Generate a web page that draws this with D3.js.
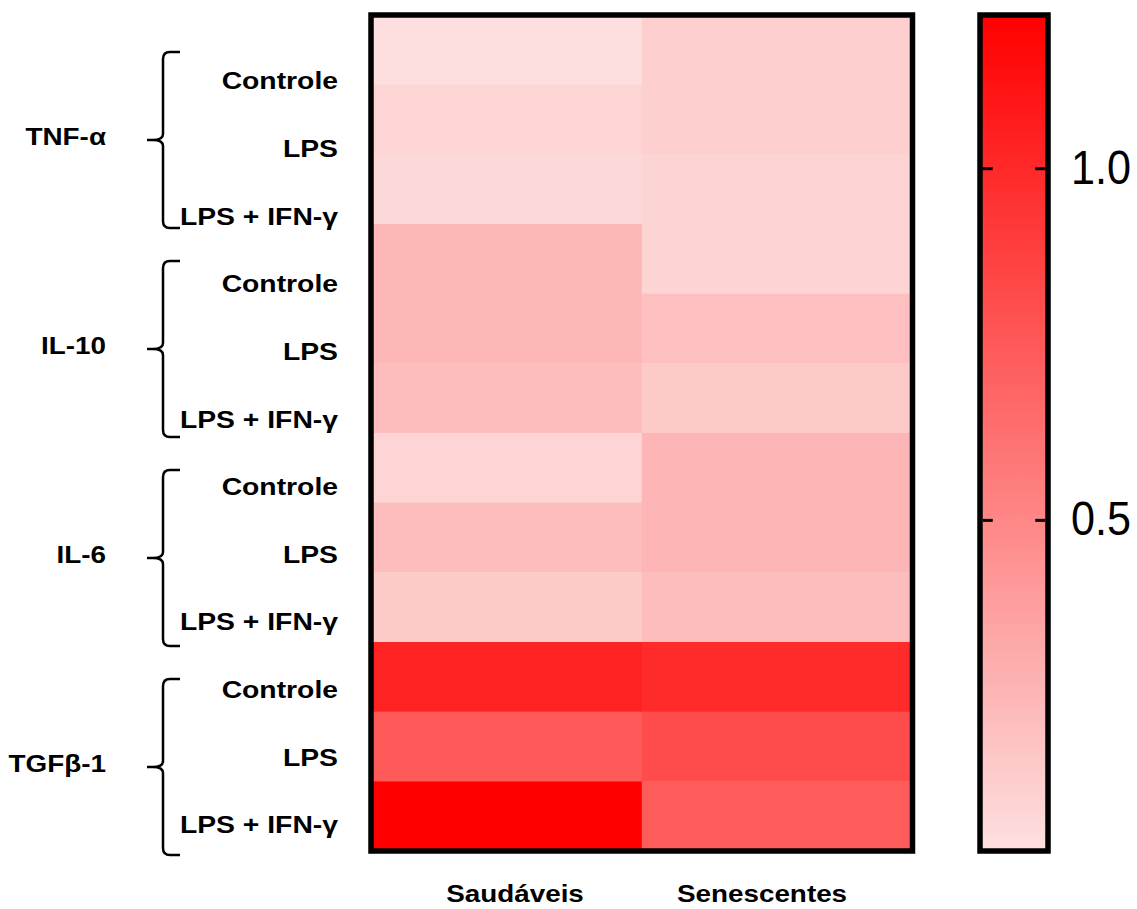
<!DOCTYPE html>
<html>
<head>
<meta charset="utf-8">
<script src="https://cdn.jsdelivr.net/npm/d3@7"></script>
<style>
    body { margin: 0; background: #fff; }
    text { font-family: "Liberation Sans", Arial, sans-serif; fill: #000; }
    .lbl { font-weight: bold; font-size: 24px; }
    .cb-label { font-size: 48px; }
</style>
</head>
<body>
<div id="heatmap"></div>
<script>
// chart data
var groups = ["TNF-α", "IL-10", "IL-6", "TGFβ-1"];
var conditions = ["Controle", "LPS", "LPS + IFN-γ"];
var columns = ["Saudáveis", "Senescentes"];

// values, one entry per row (group x condition)
var saudaveis = [0.04, 0.09, 0.075, 0.25, 0.25, 0.217, 0.09, 0.217, 0.149, 1.035, 0.74, 1.214];
var senescentes = [0.12, 0.12, 0.096, 0.096, 0.207, 0.149, 0.26, 0.26, 0.217, 0.993, 0.819, 0.734];

var colorTicks = [0.5, 1.0];
var colorDomain = [0.033, 1.214];

makeChart();

function makeChart() {
    var svgWidth = 1137;
    var svgHeight = 909;

    var svg = d3.select("#heatmap")
        .append("svg")
        .attr("width", svgWidth)
        .attr("height", svgHeight);

    // rows = every group/condition combination
    var rows = [];
    groups.forEach(function (g) {
        conditions.forEach(function (c) {
            rows.push(g + "|" + c);
        });
    });

    var cells = [];
    rows.forEach(function (r, i) {
        cells.push({ row: r, col: columns[0], value: saudaveis[i] });
        cells.push({ row: r, col: columns[1], value: senescentes[i] });
    });

    // Scales
    var heat = { left: 371, right: 912.5, top: 15, bottom: 851 };

    var xScale = d3.scaleBand()
        .domain(columns)
        .range([heat.left, heat.right]);

    var yScale = d3.scaleBand()
        .domain(rows)
        .range([heat.top, heat.bottom]);

    var color = d3.scaleLinear()
        .domain(colorDomain)
        .range(["#fde0e0", "#ff0000"])
        .interpolate(d3.interpolateRgb);

    // label positions (labels sit on a slightly tighter spacing than the cells)
    var rowLabelScale = d3.scalePoint()
        .domain(rows)
        .range([81, 825]);

    var colLabelScale = d3.scalePoint()
        .domain(columns)
        .range([515, 762]);

    var groupScale = d3.scaleBand()
        .domain(groups)
        .range([heat.top, heat.bottom]);

    // Cells
    svg.append("g")
        .attr("class", "cells")
        .selectAll("rect")
        .data(cells)
        .enter()
        .append("rect")
        .attr("x", d => xScale(d.col))
        .attr("y", d => yScale(d.row))
        .attr("width", xScale.bandwidth() + 0.5)
        .attr("height", yScale.bandwidth() + 0.5)
        .attr("fill", d => color(d.value));

    svg.append("rect")
        .attr("x", heat.left)
        .attr("y", heat.top)
        .attr("width", heat.right - heat.left)
        .attr("height", heat.bottom - heat.top)
        .attr("fill", "none")
        .attr("stroke", "#000")
        .attr("stroke-width", 5.5);

    // Row labels
    svg.append("g")
        .selectAll("text")
        .data(rows)
        .enter()
        .append("text")
        .attr("class", "lbl")
        .attr("text-anchor", "end")
        .attr("dy", "0.35em")
        .attr("transform", d => `translate(338, ${rowLabelScale(d)}) scale(1.18, 1)`)
        .text(d => d.split("|")[1]);

    // Column labels
    svg.append("g")
        .selectAll("text")
        .data(columns)
        .enter()
        .append("text")
        .attr("class", "lbl")
        .attr("text-anchor", "middle")
        .attr("transform", d => `translate(${colLabelScale(d)}, 902) scale(1.16, 1)`)
        .text(d => d);

    // Braces + group labels
    var braceGroup = svg.append("g").attr("class", "braces");
    groups.forEach(function (g) {
        var top = groupScale(g) + 37;
        var bottom = groupScale(g) + groupScale.bandwidth() + 4;
        var mid = (top + bottom) / 2;
        var xv = 163, xr = 180, xt = 147;

        var p = d3.path();
        p.moveTo(xr, top);
        p.lineTo(xv + 7, top);
        p.quadraticCurveTo(xv, top, xv, top + 7);
        p.lineTo(xv, mid - 6);
        p.quadraticCurveTo(xv, mid, xt + 6, mid);
        p.lineTo(xt, mid);
        p.moveTo(xt + 6, mid);
        p.quadraticCurveTo(xv, mid, xv, mid + 6);
        p.lineTo(xv, bottom - 7);
        p.quadraticCurveTo(xv, bottom, xv + 7, bottom);
        p.lineTo(xr, bottom);

        braceGroup.append("path")
            .attr("d", p.toString())
            .attr("fill", "none")
            .attr("stroke", "#000")
            .attr("stroke-width", 2.5);

        braceGroup.append("text")
            .attr("class", "lbl")
            .attr("text-anchor", "end")
            .attr("dy", "0.35em")
            .attr("transform", `translate(106, ${mid - 3}) scale(1.16, 1)`)
            .text(g);
    });

    // Colour bar
    var cb = { left: 980, right: 1048, top: 15, bottom: 851 };
    var cbScale = d3.scaleLinear()
        .domain(colorDomain)
        .range([848.3, 17.7]);

    var defs = svg.append("defs");
    var grad = defs.append("linearGradient")
        .attr("id", "cbGrad")
        .attr("x1", 0).attr("y1", 1)
        .attr("x2", 0).attr("y2", 0);
    d3.range(0, 1.0001, 0.1).forEach(function (t) {
        grad.append("stop")
            .attr("offset", t)
            .attr("stop-color", color(colorDomain[0] + t * (colorDomain[1] - colorDomain[0])));
    });

    svg.append("rect")
        .attr("x", cb.left)
        .attr("y", cb.top)
        .attr("width", cb.right - cb.left)
        .attr("height", cb.bottom - cb.top)
        .attr("fill", "url(#cbGrad)");

    // inner ticks on both sides
    var rightAxis = d3.axisRight(cbScale)
        .tickValues(colorTicks)
        .tickSize(-10)
        .tickFormat("");
    var leftAxis = d3.axisLeft(cbScale)
        .tickValues(colorTicks)
        .tickSize(-10)
        .tickFormat("");

    svg.append("g")
        .attr("transform", `translate(${cb.right - 2.75}, 0)`)
        .call(rightAxis)
        .call(g => g.select(".domain").remove())
        .selectAll("line").attr("stroke-width", 3).attr("stroke", "#000");

    svg.append("g")
        .attr("transform", `translate(${cb.left + 2.75}, 0)`)
        .call(leftAxis)
        .call(g => g.select(".domain").remove())
        .selectAll("line").attr("stroke-width", 3).attr("stroke", "#000");

    svg.append("rect")
        .attr("x", cb.left)
        .attr("y", cb.top)
        .attr("width", cb.right - cb.left)
        .attr("height", cb.bottom - cb.top)
        .attr("fill", "none")
        .attr("stroke", "#000")
        .attr("stroke-width", 5.5);

    svg.append("g")
        .selectAll("text")
        .data(colorTicks)
        .enter()
        .append("text")
        .attr("class", "cb-label")
        .attr("dy", "0.32em")
        .attr("transform", d => `translate(1071, ${cbScale(d)}) scale(0.9, 1)`)
        .text(d => d3.format(".1f")(d));
}
</script>
</body>
</html>
